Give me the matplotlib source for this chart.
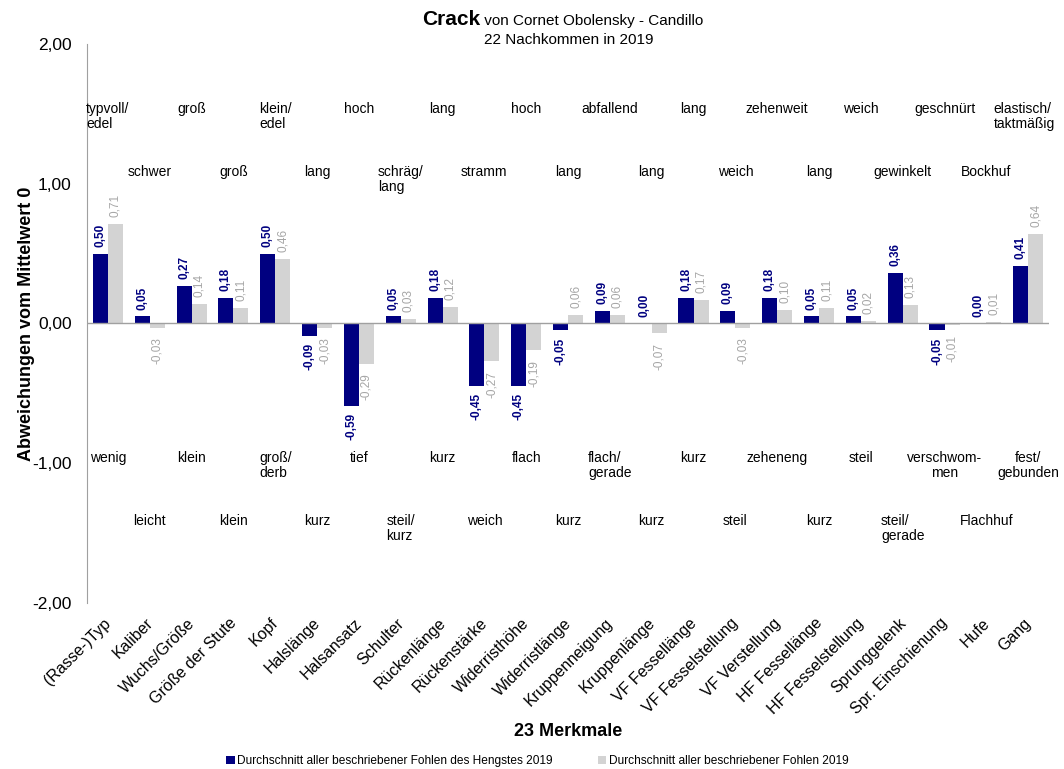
import matplotlib
matplotlib.use("Agg")
import matplotlib.pyplot as plt
import numpy as np

plt.rcParams['font.family'] = ['Liberation Sans', 'DejaVu Sans']

# Merkmale and average deviations
merkmale = ["(Rasse-)Typ", "Kaliber", "Wuchs/Größe", "Größe der Stute", "Kopf",
            "Halslänge", "Halsansatz", "Schulter", "Rückenlänge", "Rückenstärke",
            "Widerristhöhe", "Widerristlänge", "Kruppenneigung", "Kruppenlänge",
            "VF Fessellänge", "VF Fesselstellung", "VF Verstellung", "HF Fessellänge",
            "HF Fesselstellung", "Sprunggelenk", "Spr. Einschienung", "Hufe", "Gang"]
hengst = [0.50, 0.05, 0.27, 0.18, 0.50, -0.09, -0.59, 0.05, 0.18, -0.45, -0.45, -0.05,
          0.09, 0.00, 0.18, 0.09, 0.18, 0.05, 0.05, 0.36, -0.05, 0.00, 0.41]
alle = [0.71, -0.03, 0.14, 0.11, 0.46, -0.03, -0.29, 0.03, 0.12, -0.27, -0.19, 0.06,
        0.06, -0.07, 0.17, -0.03, 0.10, 0.11, 0.02, 0.13, -0.01, 0.01, 0.64]

# Pole descriptions (upper end / lower end), alternating rows
oben = ["typvoll/\nedel", "schwer", "groß", "groß", "klein/\nedel", "lang", "hoch",
        "schräg/\nlang", "lang", "stramm", "hoch", "lang", "abfallend", "lang", "lang",
        "weich", "zehenweit", "lang", "weich", "gewinkelt", "geschnürt", "Bockhuf",
        "elastisch/\ntaktmäßig"]
unten = ["wenig", "leicht", "klein", "klein", "groß/\nderb", "kurz", "tief",
         "steil/\nkurz", "kurz", "weich", "flach", "kurz", "flach/\ngerade", "kurz",
         "kurz", "steil", "zeheneng", "kurz", "steil", "steil/\ngerade",
         "verschwom-\nmen", "Flachhuf", "fest/\ngebunden"]

NAVY = "#000080"
GRAU = "#d3d3d3"
GRAU_TXT = "#a6a6a6"

fig = plt.figure(figsize=(10.64, 7.69), dpi=100)
ax = fig.add_axes([0.0818, 0.2159, 0.9042, 0.7269])

x = np.arange(len(merkmale))
w = 0.36
ax.bar(x - w / 2, hengst, w, color=NAVY, label="Durchschnitt aller beschriebener Fohlen des Hengstes 2019")
ax.bar(x + w / 2, alle, w, color=GRAU, label="Durchschnitt aller beschriebener Fohlen 2019")


def fmt(v):
    return f"{v:.2f}".replace(".", ",")


# value labels, rotated
for xi, v in zip(x - w / 2, hengst):
    neg = v < 0
    ax.annotate(fmt(v), (xi, v), xytext=(0, -5 if neg else 5), textcoords="offset points",
                rotation=90, ha="center", va="top" if neg else "bottom",
                fontsize=8.5, fontweight="bold", color=NAVY)
for xi, v in zip(x + w / 2, alle):
    neg = v < 0
    ax.annotate(fmt(v), (xi, v), xytext=(0, -7 if neg else 5), textcoords="offset points",
                rotation=90, ha="center", va="top" if neg else "bottom",
                fontsize=8.5, color=GRAU_TXT)

# pole descriptions
for i in range(len(merkmale)):
    yo = 1.588 if i % 2 == 0 else 1.132
    yu = -0.912 if i % 2 == 0 else -1.362
    ma_u = "center" if i in (20, 22) else "left"
    xo = i - 0.1 if i == 22 else i
    ax.text(xo, yo, oben[i], ha="center", va="top", fontsize=10, multialignment="left",
            linespacing=1.1)
    ax.text(i, yu, unten[i], ha="center", va="top", fontsize=10, multialignment=ma_u,
            linespacing=1.1)

ax.set_xlim(-0.5, len(merkmale) - 0.5)
ax.set_ylim(-2, 2)
ax.set_yticks([-2, -1, 0, 1, 2])
ax.set_yticklabels([fmt(t) for t in [-2, -1, 0, 1, 2]], fontsize=12.5)
ax.set_xticks(x - 0.11)
ax.set_xticklabels(merkmale, rotation=45, ha="right", rotation_mode="anchor", fontsize=11.5)
ax.tick_params(axis="x", length=0, pad=9)
ax.tick_params(axis="y", length=0, pad=11)

for s in ["top", "right", "bottom"]:
    ax.spines[s].set_visible(False)
ax.spines["left"].set_color("#a0a0a0")
ax.axhline(0, color="#a0a0a0", lw=1)

ax.set_ylabel("Abweichungen vom Mittelwert 0", fontsize=13, fontweight="bold", labelpad=-2)
ax.set_xlabel("23 Merkmale", fontsize=13, fontweight="bold", labelpad=4)

# title
fig.text(0.4515, 0.968, "Crack", ha="right", va="baseline", fontsize=15, fontweight="bold")
fig.text(0.4515, 0.968, " von Cornet Obolensky - Candillo", ha="left", va="baseline", fontsize=11)
fig.text(0.535, 0.943, "22 Nachkommen in 2019", ha="center", va="baseline", fontsize=11)

fig.legend(loc="lower center", bbox_to_anchor=(0.505, -0.012), ncol=2, frameon=False,
           fontsize=8.6, handlelength=0.7, handleheight=0.7, handletextpad=0.2,
           columnspacing=3.8)

fig.savefig("out.png", dpi=100)
